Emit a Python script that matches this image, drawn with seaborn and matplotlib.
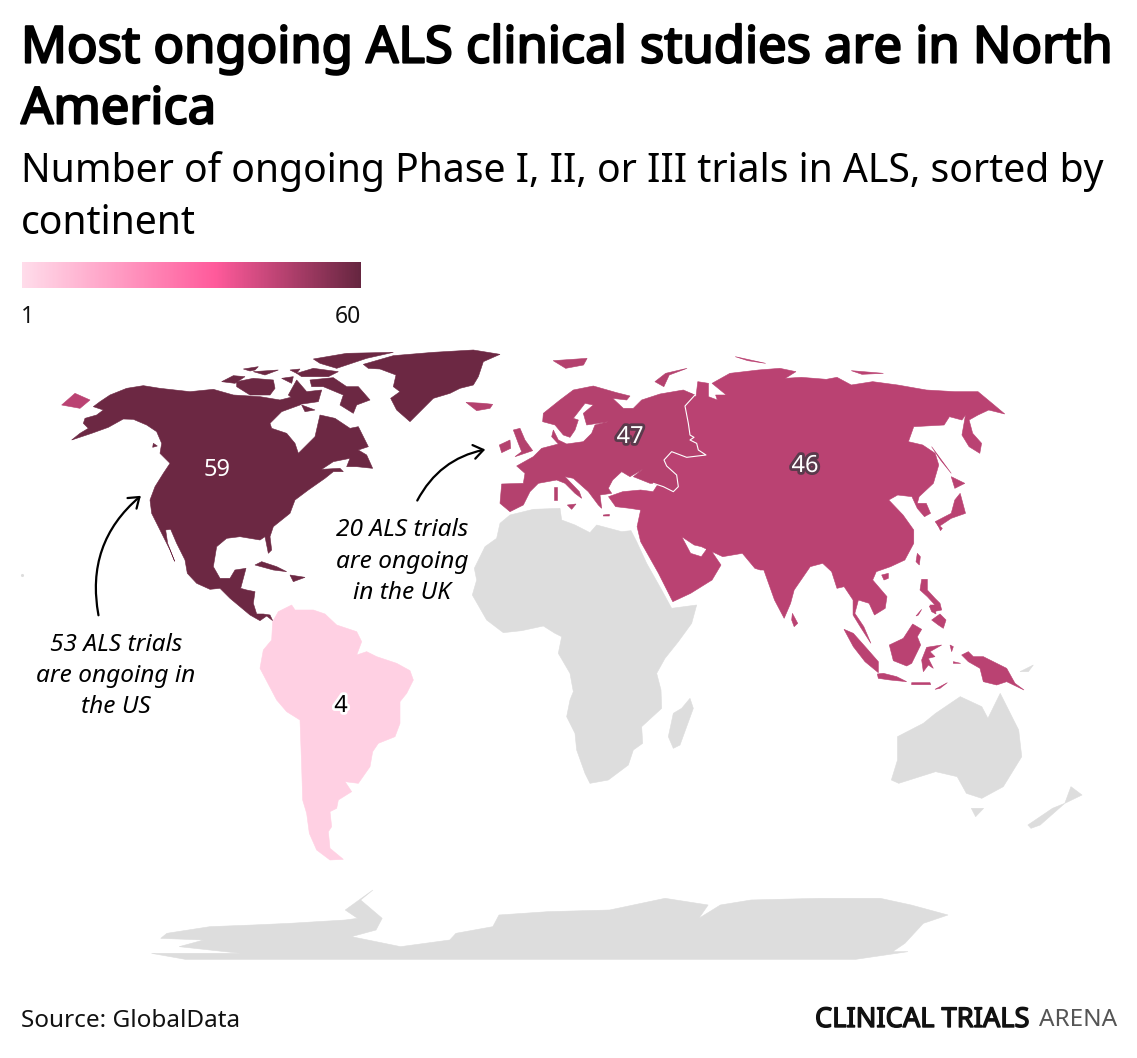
import matplotlib
matplotlib.use("Agg")
import matplotlib.pyplot as plt
import matplotlib.patheffects as pe
from matplotlib.colors import LinearSegmentedColormap, Normalize
from matplotlib.patches import FancyArrowPatch, Polygon
import numpy as np
import seaborn as sns

# data
continents = ["North America", "Europe", "Asia", "South America"]
trial_counts = [59, 47, 46, 4]
scale_min = 1
scale_max = 60
no_data_colour = "#dddddd"
ramp_colours = ["#ffdcea", "#ff5a9b", "#662640"]
ramp_stops = [0, 0.57, 1]

# outlines, each list in the pixels of its 3x crop
# crop at (0, 340)
north_america = [[(215,300),(275,280),(325,262),(370,237),(400,238),(440,255),(470,275),(485,310),(480,340),(510,370),(490,400),(465,440),(450,480),(455,520),(475,560),(490,590),(510,630),(524,664),(503,610),(497,570),(512,568),(530,610),(555,660),(562,700),(590,730),(630,748),(660,745),(690,775),(720,800),(750,825),(780,842),(800,828),(818,842),(810,825),(790,822),(770,822),(760,790),(765,755),(740,750),(722,745),(738,685),(705,690),(690,715),(660,715),(640,680),(650,620),(680,595),(720,590),(780,600),(795,590),(805,640),(815,630),(810,590),(820,560),(870,520),(885,480),(925,450),(975,415),(1000,395),(1030,395),(1020,385),(965,388),(1000,365),(1050,355),(1040,380),(1070,380),(1118,385),(1100,345),(1075,330),(1105,320),(1075,260),(1050,265),(1005,235),(960,225),(945,290),(915,320),(895,340),(885,310),(860,280),(815,265),(810,250),(845,215),(900,195),(915,170),(880,170),(840,180),(780,170),(700,165),(640,148),(570,155),(480,145),(430,137),(380,145),(330,165),(300,185),(280,200),(310,210),(290,225),(255,235),(250,250),(265,265),(240,280)],
    [(765,675),(785,665),(830,680),(860,695),(820,690)],
    [(870,705),(915,712),(880,725)],
    [(460,310),(472,318),(458,322)]]
far_east_tip = [[(185,195),(225,160),(270,180),(240,205)]]

# crop at (220, 345)
arctic_north = [[(430,58),(520,32),(640,22),(760,15),(840,28),(790,50),(775,95),(760,120),(720,130),(690,145),(640,160),(600,200),(570,230),(530,195),(512,160),(540,140),(520,125),(528,90),(480,72),(445,70)],
    [(280,42),(380,25),(520,22),(440,40),(350,70),(300,55)],
    [(270,105),(340,98),(380,125),(415,125),(450,165),(410,180),(400,205),(360,180),(370,150),(310,125),(275,125)],
    [(50,110),(100,100),(160,105),(165,130),(150,150),(90,150),(50,125)],
    [(5,110),(40,92),(75,95),(45,115)],
    [(70,72),(115,65),(105,75),(90,78)],
    [(100,80),(175,75),(135,90)],
    [(185,100),(220,95),(215,115)],
    [(205,150),(230,105),(260,140),(305,135),(295,170),(240,178)],
    [(230,85),(280,70),(355,80),(325,95),(245,95)],
    [(210,75),(240,72),(230,85)],
    [(245,180),(285,195),(255,200)]]
iceland = [[(738,172),(790,175),(818,178),(810,190),(770,197)]]

# crop at (490, 380)
europe = [[(615,45),(580,30),(510,42),(455,60),(430,85),(400,85),(368,55),(410,60),(420,48),(380,38),(310,18),(250,30),(210,60),(160,100),(158,125),(195,135),(220,165),(240,172),(255,150),(265,120),(250,115),(285,70),(310,75),(280,100),(290,135),(355,125),(315,135),(305,160),(280,185),(230,192),(205,180),(190,150),(185,170),(205,192),(155,205),(130,230),(80,258),(105,280),(100,310),(35,312),(30,370),(60,395),(100,375),(120,335),(145,310),(200,300),(225,310),(255,340),(275,355),(268,335),(225,290),(250,295),(295,335),(325,375),(335,385),(330,345),(365,340),(355,325),(368,300),(395,275),(420,290),(458,268),(430,290),(480,310),(490,310),(520,320),(550,335),(565,320),(560,285),(530,258),(522,240),(545,215),(590,232),(648,225),(625,210),(620,190),(600,180),(612,172),(600,165),(595,130),(585,78)],
    [(70,150),(90,145),(105,180),(128,212),(75,230),(95,215),(85,190)],
    [(28,195),(60,180),(62,205),(35,218)],
    [(192,320),(200,320),(200,360),(192,360)],
    [(232,375),(258,372),(245,388)],
    [(340,405),(358,403),(358,408),(340,408)]]
europe_asia_border = [(615,45),(585,78),(595,130),(600,165),(612,172),(600,180),(620,190),(625,210),(648,225),(590,232),(545,215),(522,240),(530,258),(560,285),(565,320),(550,335),(520,320),(490,310)]

# crop at (480, 340), shown 2.8x wide
asia = [[(605,170),(610,125),(640,130),(640,170),(665,180),(660,165),(690,165),(650,130),(700,100),(780,90),(840,85),(885,95),(855,115),(900,112),(970,118),(1000,112),(1040,135),(1100,125),(1170,135),(1250,150),(1330,155),(1395,155),(1440,195),(1470,222),(1425,210),(1395,225),(1370,240),(1380,280),(1405,310),(1400,340),(1370,320),(1350,285),(1360,225),(1350,240),(1315,230),(1300,255),(1215,260),(1200,305),(1240,315),(1275,340),(1285,375),(1270,430),(1230,470),(1225,490),(1250,490),(1262,520),(1245,530),(1225,505),(1210,470),(1170,465),(1145,480),(1185,525),(1215,570),(1215,610),(1190,660),(1150,680),(1110,695),(1100,720),(1140,770),(1135,805),(1105,825),(1090,790),(1060,780),(1050,820),(1075,860),(1095,910),(1065,860),(1045,825),(1045,780),(1020,740),(1000,745),(985,695),(960,670),(925,680),(880,750),(870,790),(852,835),(825,780),(795,690),(785,690),(770,685),(735,640),(680,650),(650,635),(620,620),(600,615),(565,590),(590,640),(620,650),(640,620),(675,675),(650,720),(590,760),(540,785),(500,700),(450,605),(440,560),(450,510),(420,505),(380,500),(360,470),(400,455),(450,450),(485,455),(500,430),(500,350),(540,250),(555,175),(590,160)],
    [(1345,460),(1360,520),(1320,535),(1285,560),(1275,545),(1320,520),(1330,480)],
    [(1320,410),(1358,430),(1330,445)],
    [(1265,320),(1320,400),(1290,360)],
    [(1280,550),(1295,565),(1290,572)],
    [(875,820),(890,850),(880,860),(873,840)],
    [(715,50),(800,70),(750,62)],
    [(1040,92),(1130,100),(1070,103)]]
europe_far_north = [[(205,62),(300,55),(290,75),(240,85)],
    [(490,125),(520,100),(580,85),(530,105),(515,140)]]

# crop at (840, 540)
south_east_asia = [[(232,40),(241,50),(238,75),(228,65)],
    [(125,105),(145,100),(145,115),(132,120)],
    [(245,118),(262,118),(262,150),(285,175),(300,190),(305,210),(280,215),(270,195),(285,195),(262,170),(240,150)],
    [(275,240),(300,222),(318,240),(310,265),(295,255)],
    [(228,228),(245,208),(235,225)],
    [(268,198),(285,200),(288,222),(275,215)],
    [(148,315),(190,295),(218,252),(245,268),(232,290),(242,315),(215,370),(200,378),(160,362)],
    [(12,268),(40,280),(80,325),(115,365),(115,398),(75,365),(40,320)],
    [(112,402),(130,400),(170,410),(200,425),(150,420),(115,415)],
    [(215,428),(270,428),(272,434),(215,434)],
    [(285,448),(322,428),(300,445)],
    [(260,322),(305,315),(270,335),(285,350),(265,355),(280,385),(265,375),(250,395),(245,360)],
    [(365,345),(385,335),(400,350),(430,350),(500,385),(525,430),(552,450),(500,425),(470,435),(430,425),(420,385),(385,365)],
    [(330,315),(340,320),(335,335)],
    [(340,365),(362,370),(340,370)]]
new_britain = [[(540,395),(580,375),(565,395)]]

# crop at (250, 600)
south_america = [[(68,65),(85,35),(125,15),(135,30),(190,30),(225,42),(260,75),(320,95),(335,125),(320,165),(350,155),(380,170),(440,190),(480,212),(490,240),(470,280),(450,305),(450,370),(435,410),(385,430),(368,455),(360,500),(325,550),(285,545),(305,575),(265,600),(260,625),(240,635),(245,680),(235,695),(240,745),(280,778),(240,780),(200,750),(178,700),(170,640),(158,600),(155,500),(150,360),(110,335),(80,300),(30,205),(40,150),(65,120)]]

# crop at (465, 500)
africa = [[(105,70),(135,45),(205,28),(285,25),(290,60),(330,75),(375,98),(395,75),(470,95),(498,92),(515,125),(545,190),(590,270),(620,325),(695,315),(680,370),(640,425),(600,475),(575,520),(588,570),(590,625),(530,680),(533,730),(505,750),(490,795),(430,840),(375,850),(360,820),(335,750),(330,700),(305,650),(315,600),(325,575),(315,520),(280,460),(290,410),(270,400),(235,378),(170,392),(115,398),(65,360),(22,285),(35,240),(28,205),(60,140),(95,115)],
    [(675,595),(685,625),(665,680),(645,735),(625,745),(610,710),(625,640),(650,625)]]

# crop at (130, 590), shown 1.85x wide
south_grey = [[(1248,440),(1290,400),(1310,370),(1350,320),(1385,350),(1395,385),(1415,310),(1445,420),(1450,500),(1420,590),(1385,625),(1360,610),(1345,560),(1310,545),(1250,580),(1238,570),(1248,510)],
    [(1368,655),(1388,655),(1375,680)],
    [(1460,705),(1500,655),(1520,640),(1480,705),(1465,715)],
    [(1530,590),(1548,615),(1520,640)],
    [(35,1090),(180,1090),(80,1070),(120,1050),(50,1045),(60,1030),(130,1010),(200,1005),(260,1000),(350,990),(370,985),(350,960),(395,900),(375,930),(410,985),(400,1020),(360,1040),(440,1070),(520,1050),(530,1030),(590,1010),(600,975),(680,965),(780,960),(870,925),(940,945),(925,985),(960,945),(1010,930),(1120,925),(1220,925),(1270,945),(1330,975),(1290,1000),(1260,1060),(1240,1085),(1265,1085),(1180,1108),(90,1108)]]


def crop(x0, y0, sx=1 / 3):
    return lambda shape: [(x0 + x * sx, y0 + y / 3) for x, y in shape]


sns.set_theme(style="white")
plt.rcParams["font.family"] = ["Noto Sans", "DejaVu Sans"]

cmap = LinearSegmentedColormap.from_list("trials", list(zip(ramp_stops, ramp_colours)))
norm = Normalize(scale_min, scale_max)
counts = dict(zip(continents, trial_counts))

fig = plt.figure(figsize=(11.37, 10.58), dpi=100)
ax = fig.add_axes([0, 0, 1, 1])
ax.set_xlim(0, 1137)
ax.set_ylim(1058, 0)
ax.axis("off")


def draw(shapes, to_px, colour):
    for shape in shapes:
        ax.add_patch(Polygon(to_px(shape), closed=True, fc=colour, ec=colour, lw=0.4))


# grey land first
draw(africa, crop(465, 500), no_data_colour)
draw(south_grey, crop(130, 590, 0.615), no_data_colour)
draw(new_britain, crop(840, 540), no_data_colour)
ax.scatter([22], [575], s=5, color=no_data_colour, linewidths=0)

# continents with trials
na_colour = cmap(norm(counts["North America"]))
eu_colour = cmap(norm(counts["Europe"]))
as_colour = cmap(norm(counts["Asia"]))
draw(north_america, crop(0, 340), na_colour)
draw(arctic_north, crop(220, 345), na_colour)
draw(asia, crop(480, 340, 0.357), as_colour)
draw(far_east_tip, crop(0, 340), as_colour)
draw(south_east_asia, crop(840, 540), as_colour)
draw(europe, crop(490, 380), eu_colour)
draw(europe_far_north, crop(480, 340, 0.357), eu_colour)
draw(iceland, crop(220, 345), eu_colour)
draw(south_america, crop(250, 600), cmap(norm(counts["South America"])))

border = np.array(crop(490, 380)(europe_asia_border))
ax.plot(border[:, 0], border[:, 1], color="white", lw=0.8)

# labels on the map
halo_dark = [pe.withStroke(linewidth=4, foreground="#5a3a4c")]
halo_light = [pe.withStroke(linewidth=4, foreground="white")]
label_styles = {
    "North America": (217, 470, "white", None),
    "Europe": (630, 437, "white", halo_dark),
    "Asia": (805, 466, "white", halo_dark),
    "South America": (341, 706, "black", halo_light),
}
for name, count in zip(continents, trial_counts):
    x, y, colour, effects = label_styles[name]
    ax.text(x, y, str(count), ha="center", va="center", fontsize=17,
            color=colour, path_effects=effects)

# headings, the bold is a stroke because Noto Sans has no bold cut here
heavy = [pe.withStroke(linewidth=1.6, foreground="black")]
ax.text(21, 49, "Most ongoing ALS clinical studies are in North", fontsize=36.5,
        color="black", va="center", path_effects=heavy)
ax.text(21, 110, "America", fontsize=36.5, color="black", va="center", path_effects=heavy)
ax.text(21, 172, "Number of ongoing Phase I, II, or III trials in ALS, sorted by",
        fontsize=28.2, color="black", va="center")
ax.text(21, 224, "continent", fontsize=28.2, color="black", va="center")

# colour scale
bar = fig.add_axes([22 / 1137, 1 - 288 / 1058, 339 / 1137, 26 / 1058])
sns.heatmap([np.linspace(scale_min, scale_max, 339)], cmap=cmap, vmin=scale_min,
            vmax=scale_max, cbar=False, xticklabels=False, yticklabels=False, ax=bar)
ax.text(21, 317, str(scale_min), fontsize=16.5, va="center", color="#111111")
ax.text(361, 317, str(scale_max), fontsize=16.5, va="center", ha="right", color="#111111")

# notes
for text, y in zip(["53 ALS trials", "are ongoing in", "the US"], [645, 676, 707]):
    ax.text(116, y, text, fontsize=17.6, style="italic", ha="center", va="center", color="black")
for text, y in zip(["20 ALS trials", "are ongoing", "in the UK"], [530, 562, 593]):
    ax.text(402, y, text, fontsize=17.6, style="italic", ha="center", va="center", color="black")

ax.add_patch(FancyArrowPatch((99, 618), (143, 494), connectionstyle="arc3,rad=-0.3",
                             arrowstyle="->,head_length=7,head_width=5", lw=1.6, color="black"))
ax.add_patch(FancyArrowPatch((416, 503), (488, 449), connectionstyle="arc3,rad=-0.25",
                             arrowstyle="->,head_length=7,head_width=5", lw=1.6, color="black"))

# footer
ax.text(21, 1021, "Source: GlobalData", fontsize=17.5, va="center", color="#111111")
ax.text(1029, 1020, "CLINICAL TRIALS", fontsize=19.6, ha="right", va="center", color="#111111",
        path_effects=[pe.withStroke(linewidth=1, foreground="#111111")])
ax.text(1117, 1020, "ARENA", fontsize=17.5, ha="right", va="center", color="#555555")

fig.savefig("out.png", dpi=100)
